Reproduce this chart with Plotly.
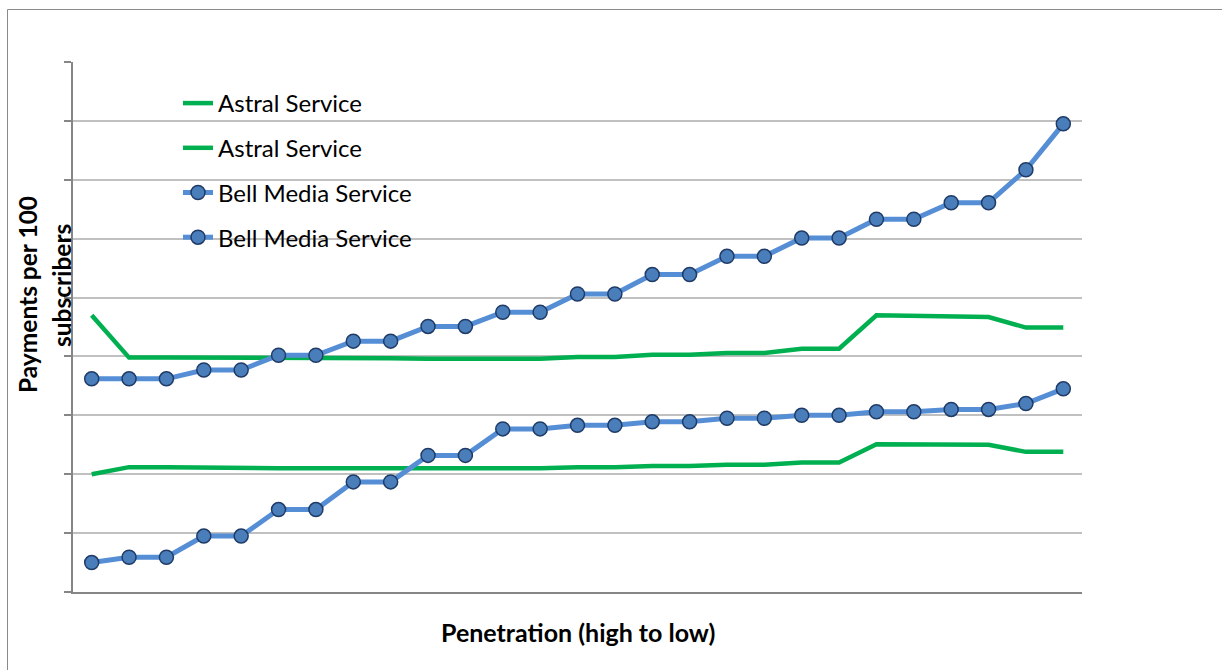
import plotly.graph_objects as go

categories = list(range(1, 28))

astral_upper = [47.0, 39.8, 39.8, 39.8, 39.7, 39.7, 39.7, 39.7, 39.7, 39.6, 39.6, 39.6, 39.6, 39.9,
                39.9, 40.3, 40.3, 40.6, 40.6, 41.3, 41.3, 47.0, 46.9, 46.8, 46.7, 44.9, 44.9]
astral_lower = [20.0, 21.2, 21.2, 21.1, 21.1, 21.0, 21.0, 21.0, 21.0, 21.0, 21.0, 21.0, 21.0, 21.2,
                21.2, 21.4, 21.4, 21.6, 21.6, 22.0, 22.0, 25.1, 25.1, 25.1, 25.0, 23.8, 23.8]
bell_upper = [36.2, 36.2, 36.2, 37.7, 37.7, 40.2, 40.2, 42.6, 42.6, 45.1, 45.1, 47.5, 47.5, 50.6,
              50.6, 53.9, 53.9, 57.0, 57.0, 60.1, 60.1, 63.3, 63.3, 66.1, 66.1, 71.7, 79.5]
bell_lower = [5.0, 5.9, 5.9, 9.5, 9.5, 14.0, 14.0, 18.7, 18.7, 23.2, 23.2, 27.7, 27.7, 28.3,
              28.3, 28.9, 28.9, 29.5, 29.5, 30.0, 30.0, 30.6, 30.6, 31.0, 31.0, 32.0, 34.5]

series_names = ["Astral Service", "Astral Service", "Bell Media Service", "Bell Media Service"]

GREEN = "#00B050"
BLUE_LINE = "#558ED5"
MARKER_FILL = "#4A7EBB"
MARKER_EDGE = "#1F3B66"
FONT = "Lato"

fig = go.Figure()
for i, (name, vals) in enumerate(zip(series_names[:2], [astral_upper, astral_lower])):
    fig.add_trace(go.Scatter(
        x=categories, y=vals, name=name, mode="lines",
        line=dict(color=GREEN, width=4.5), legendgroup=f"g{i}"))
for i, (name, vals) in enumerate(zip(series_names[2:], [bell_upper, bell_lower])):
    fig.add_trace(go.Scatter(
        x=categories, y=vals, name=name, mode="lines+markers",
        line=dict(color=BLUE_LINE, width=5),
        marker=dict(size=14, color=MARKER_FILL, line=dict(color=MARKER_EDGE, width=1.5)),
        legendgroup=f"g{i+2}"))

L, R, T, B = 73, 140, 62, 78
W, H = 1222, 670
pw, ph = W - L - R, H - T - B

def px(x):
    return (x - L) / pw

def py(y):
    return (H - B - y) / ph

fig.update_layout(
    width=W, height=H,
    margin=dict(l=L, r=R, t=T, b=B, pad=0),
    paper_bgcolor="white", plot_bgcolor="white",
    font=dict(family=FONT, size=24, color="black"),
    showlegend=True,
    legend=dict(
        x=px(178), y=py(81), xanchor="left", yanchor="top",
        bgcolor="rgba(0,0,0,0)", font=dict(family=FONT, size=24, color="black"),
        tracegroupgap=10.5, traceorder="grouped", itemsizing="trace",
    ),
    xaxis=dict(
        range=[0.5, 27.5], showgrid=False, zeroline=False,
        showline=True, linecolor="#868686", linewidth=2,
        ticks="", showticklabels=False,
    ),
    yaxis=dict(
        range=[0, 90], dtick=10, tick0=0, showgrid=True, gridcolor="#C0C0C0", gridwidth=1.5,
        zeroline=False, showline=True, linecolor="#868686", linewidth=1.5,
        ticks="outside", ticklen=7, tickcolor="#868686", tickwidth=1.5,
        showticklabels=False,
    ),
    annotations=[
        dict(text="<b>Penetration (high to low)</b>", xref="paper", yref="paper",
             x=0.5, y=py(632), xanchor="center", yanchor="middle", showarrow=False,
             font=dict(family=FONT, size=25, color="black")),
        dict(text="<b>Payments per 100</b>", xref="paper", yref="paper",
             x=px(27), y=py(295), xanchor="center", yanchor="middle", showarrow=False,
             textangle=-90, font=dict(family=FONT, size=24.5, color="black")),
        dict(text="<b>subscribers</b>", xref="paper", yref="paper",
             x=px(61), y=py(286), xanchor="center", yanchor="middle", showarrow=False,
             textangle=-90, font=dict(family=FONT, size=24.5, color="black")),
    ],
    shapes=[
        dict(type="rect", xref="paper", yref="paper",
             x0=px(7.5), x1=px(1230), y0=py(9.5), y1=py(680),
             line=dict(color="#8A8A8A", width=1), fillcolor="rgba(0,0,0,0)", layer="below"),
    ],
)

fig.write_html("out.html")
